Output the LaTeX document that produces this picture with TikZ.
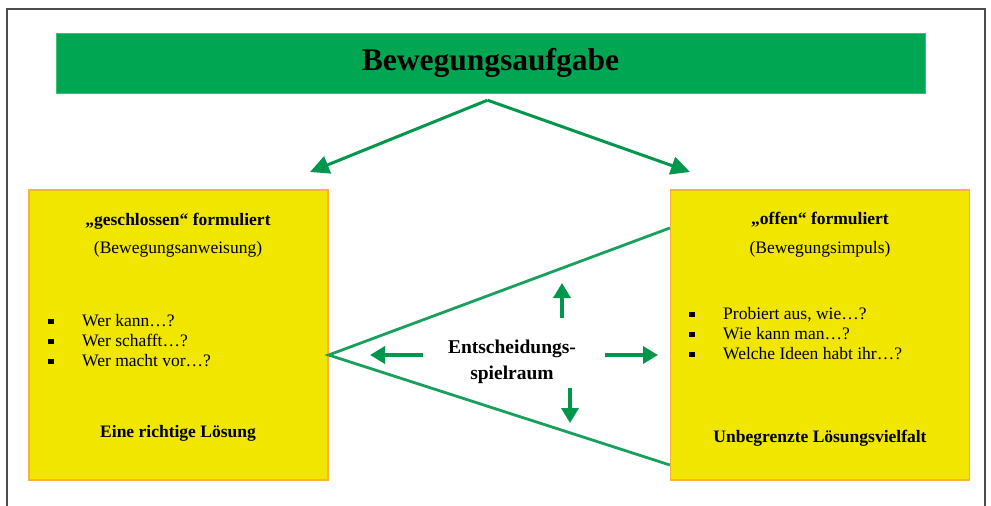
\documentclass[tikz,border=0pt]{standalone}
\usepackage{fontspec}
\setmainfont{Liberation Serif}
\usepackage{tikz}
\usetikzlibrary{arrows.meta, positioning, calc}

\definecolor{bannergreen}{RGB}{0,166,81}
\definecolor{arrowgreen}{RGB}{0,150,75}
\definecolor{boxyellow}{RGB}{240,230,0}
\definecolor{boxorange}{RGB}{247,178,60}
\newcommand{\sqbul}{\makebox[34pt][l]{\rule[2pt]{5.5pt}{5.5pt}}}

\begin{document}
\begin{tikzpicture}[
    x=1pt, y=-1pt,
    font=\fontsize{17.5}{20}\selectfont,
    banner/.style={rectangle, draw=bannergreen!75!white, fill=bannergreen, minimum width=869pt, minimum height=60pt, inner sep=0pt, font=\fontsize{31.5}{36}\selectfont\bfseries},
    choice/.style={rectangle, draw=boxorange, line width=1.2pt, fill=boxyellow, minimum width=299pt, minimum height=290pt},
    heading/.style={anchor=base, inner sep=0pt, font=\fontsize{17.5}{20}\selectfont\bfseries},
    plain/.style={anchor=base, inner sep=0pt},
    items/.style={anchor=base west, inner sep=0pt, align=left},
    arrow/.style={-{Triangle[length=19pt,width=18pt]}, line width=3pt, arrowgreen},
    push/.style={-{Triangle[length=15pt,width=17pt]}, line width=3.5pt, arrowgreen},
    cone/.style={line width=2.8pt, arrowgreen!90!white}
]
\useasboundingbox (0,0) rectangle (991,506);

% Frame
\draw[line width=1.3pt, black!70] (7,506) |- (985,9) -- (985,506);

% Task banner
\node[banner] (task) at (490.5,63) {Bewegungsaufgabe};

% Two kinds of task
\node[choice] (closed) at (178.5,335) {};
\node[choice] (open) at (820,335) {};

% Closed task texts
\node[heading] (closedhead) at (178,225) {„geschlossen“ formuliert};
\node[plain] (closedsub) at (178,253) {(Bewegungsanweisung)};
\node[items] (closedlist) at (48,366) {\sqbul Wer kann…?\\\sqbul Wer schafft…?\\\sqbul Wer macht vor…?};
\node[heading] (closedres) at (178,437) {Eine richtige Lösung};

% Open task texts
\node[heading] (openhead) at (820,224) {„offen“ formuliert};
\node[plain] (opensub) at (820,253) {(Bewegungsimpuls)};
\node[items] (openlist) at (689,359) {\sqbul Probiert aus, wie…?\\\sqbul Wie kann man…?\\\sqbul Welche Ideen habt ihr…?};
\node[heading] (openres) at (820,442) {Unbegrenzte Lösungsvielfalt};

% Decision space
\node[inner sep=0pt, align=center, font=\fontsize{19.5}{26}\selectfont\bfseries] (space) at (512,362) {Entscheidungs-\\spielraum};

% Arrows from banner
\coordinate (fork) at ($(task.south)+(-3,7)$);
\coordinate (tipL) at (310,172);
\coordinate (tipR) at (690,172);
\draw[arrow] (fork) -- (tipL);
\draw[arrow] (fork) -- (tipR);

% Widening cone
\coordinate (apex) at ($(closed.east)+(0,20)$);
\draw[cone] ($(open.west)+(0,-107)$) -- (apex) -- ($(open.west)+(0,130)$);

% Arrows round the decision space
\coordinate (lfrom) at (423,355); \coordinate (lto) at (370,355);
\coordinate (rfrom) at (605,355); \coordinate (rto) at (658,355);
\coordinate (ufrom) at (562,318); \coordinate (uto) at (562,283);
\coordinate (dfrom) at (570,388); \coordinate (dto) at (570,423);
\draw[push] (lfrom) -- (lto);
\draw[push] (rfrom) -- (rto);
\draw[push] (ufrom) -- (uto);
\draw[push] (dfrom) -- (dto);

\end{tikzpicture}
\end{document}
